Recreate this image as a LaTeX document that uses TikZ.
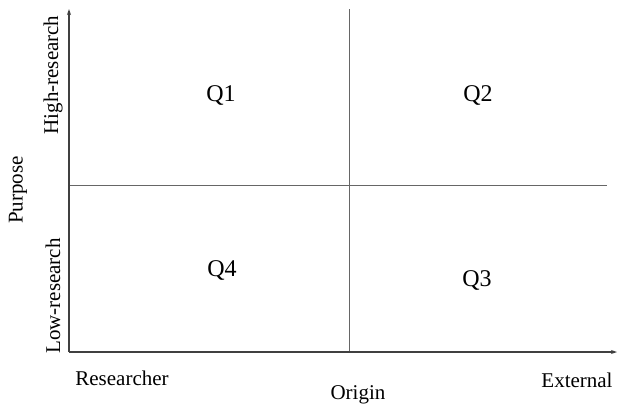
\documentclass[tikz,border=0pt]{standalone}
\usepackage{fontspec}
\setmainfont{Liberation Serif}
\usetikzlibrary{arrows.meta}
\begin{document}
\begin{tikzpicture}[x=1pt,y=-1pt,
  axis/.style={line width=1.3pt,draw=black!75,-{Stealth[length=6pt,width=4pt]}},
  divider/.style={line width=1pt,draw=black!60},
  lbl/.style={font=\fontsize{21}{24}\selectfont,inner sep=0pt},
  quad/.style={font=\fontsize{24}{28}\selectfont,inner sep=0pt}]
\useasboundingbox (0,0) rectangle (625,408);
\coordinate (O) at (69,352);
\coordinate (ytop) at (69,9);
\coordinate (xend) at (617,352);
\coordinate (mtop) at (349,9);
\coordinate (mbot) at (349,352);
\coordinate (hl) at (69,185);
\coordinate (hr) at (607,185);
\draw[divider] (mtop) -- (mbot);
\draw[divider] (hl) -- (hr);
\draw[axis] (O) -- (ytop);
\draw[axis] (O) -- (xend);
\node[lbl,rotate=90] (high) at (53,75) {High-research};
\node[lbl,rotate=90] (low) at (53,296) {Low-research};
\node[lbl,rotate=90] (purpose) at (18,190) {Purpose};
\node[lbl] (res) at (122,378) {Researcher};
\node[lbl] (origin) at (358,395) {Origin};
\node[lbl] (ext) at (577,380) {External};
\node[quad] (q1) at (221,95) {Q1};
\node[quad] (q2) at (478,95) {Q2};
\node[quad] (q3) at (477,280) {Q3};
\node[quad] (q4) at (222,270) {Q4};
\end{tikzpicture}
\end{document}
